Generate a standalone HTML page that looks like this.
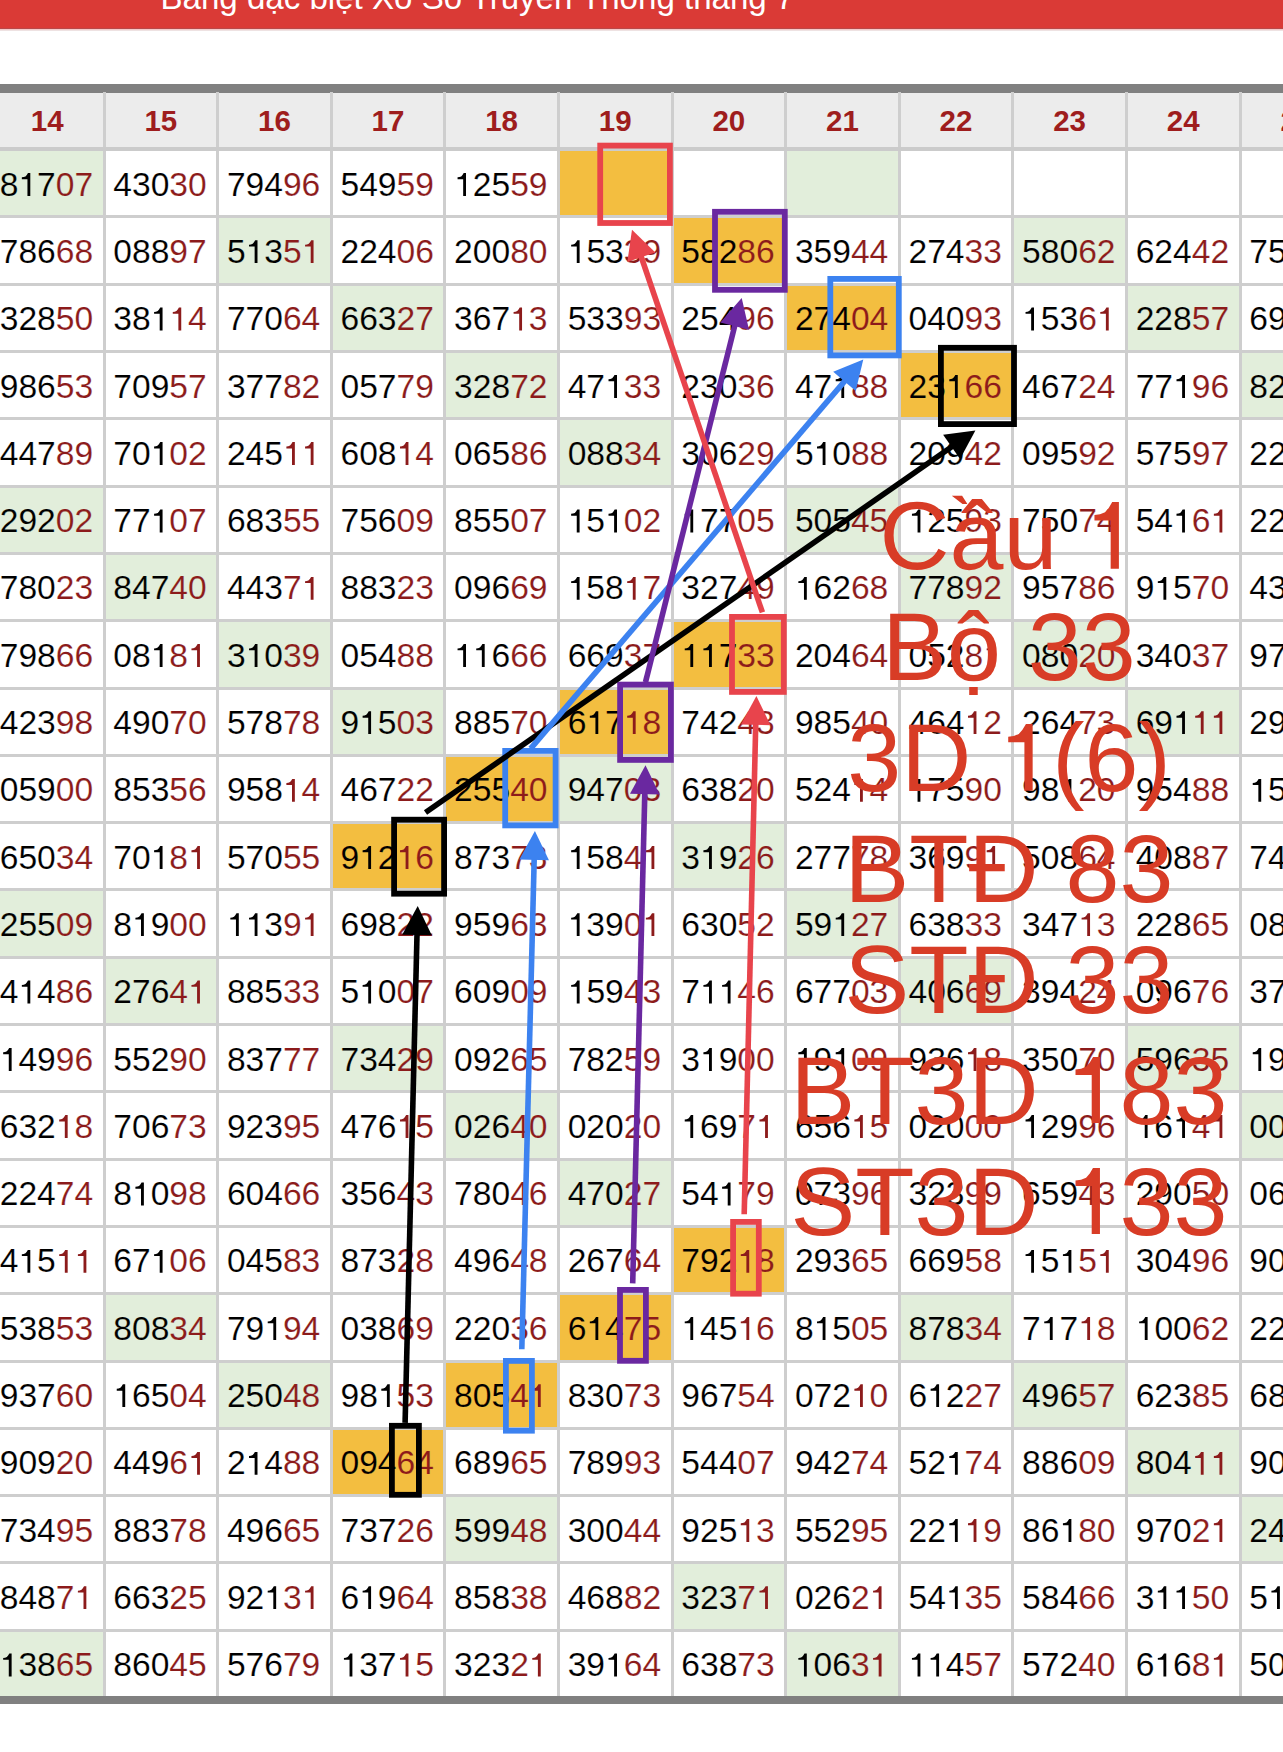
<!DOCTYPE html>
<html><head><meta charset="utf-8"><title>Bang dac biet</title>
<style>
html,body{margin:0;padding:0;background:#fff;}
body{width:1283px;height:1752px;position:relative;overflow:hidden;font-family:"Liberation Sans",sans-serif;}
#bar{position:absolute;left:0;top:0;width:1283px;height:28px;background:#da3a36;}
#bar1{position:absolute;left:0;top:28px;width:1283px;height:1px;background:#b94848;}
#bar2{position:absolute;left:0;top:29px;width:1283px;height:1px;background:#f4c9c9;}
#bar3{position:absolute;left:0;top:30px;width:1283px;height:1px;background:#eee2e2;}
#title{position:absolute;left:160.5px;top:-21.8px;font-size:33.1px;line-height:40px;color:#fff;white-space:nowrap;}
#tb{position:absolute;left:0;top:84px;width:1283px;height:8.6px;background:#808080;}
#hd{position:absolute;left:0;top:92.6px;width:1283px;height:54px;background:#ececec;}
#hb{position:absolute;left:0;top:146.5px;width:1283px;height:4px;background:#cbcbcb;}
#bb{position:absolute;left:0;top:1696px;width:1283px;height:8.4px;background:#808080;}
.bg{position:absolute;}
.vl{position:absolute;top:92px;width:3px;height:1604px;background:#cecece;}
.hl{position:absolute;left:0;width:1283px;height:3px;background:#cecece;}
.t{position:absolute;font-size:33.6px;line-height:40px;height:40px;text-align:center;color:#000;white-space:nowrap;-webkit-text-stroke:0.15px #fff;}
.t.g{-webkit-text-stroke-color:#e2eedb;}
.t.o{-webkit-text-stroke-color:#f3be40;}
.t b{font-weight:normal;color:#8c1b1b;}
.h{position:absolute;top:100.5px;font-size:29.5px;font-weight:bold;line-height:40px;text-align:center;color:#9e1d1d;}
svg{position:absolute;left:0;top:0;}
i{font-style:normal;position:relative;color:transparent;}
i::before{content:"";position:absolute;left:0;top:0.2175em;width:0.556em;height:0.688em;background:#000;clip-path:polygon(0.355em 0,0.286em 0,0.25em 0.06em,0.212em 0.104em,0.16em 0.125em,0.103em 0.133em,0.103em 0.19em,0.270em 0.19em,0.270em 0.688em,0.355em 0.688em);}
b i::before{background:#8c1b1b;}
.ov i::before{background:#d83c26;}

.ov{position:absolute;left:509px;width:1000px;text-align:center;font-size:97px;line-height:100px;color:#d83c26;white-space:nowrap;}
</style></head><body>
<div id="bar"></div><div id="bar1"></div><div id="bar2"></div><div id="bar3"></div>
<div id="title">Bảng đặc biệt Xổ Số Truyền Thống tháng 7</div>
<div id="tb"></div><div id="hd"></div>
<div class="bg" style="left:-9.6px;top:149.6px;width:113.6px;height:67.3px;background:#e2eedb"></div>
<div class="bg" style="left:558.4px;top:149.6px;width:113.6px;height:67.3px;background:#f3be40"></div>
<div class="bg" style="left:785.6px;top:149.6px;width:113.6px;height:67.3px;background:#e2eedb"></div>
<div class="bg" style="left:217.6px;top:216.9px;width:113.6px;height:67.3px;background:#e2eedb"></div>
<div class="bg" style="left:672px;top:216.9px;width:113.6px;height:67.3px;background:#f3be40"></div>
<div class="bg" style="left:1012.8px;top:216.9px;width:113.6px;height:67.3px;background:#e2eedb"></div>
<div class="bg" style="left:331.2px;top:284.2px;width:113.6px;height:67.3px;background:#e2eedb"></div>
<div class="bg" style="left:785.6px;top:284.2px;width:113.6px;height:67.3px;background:#f3be40"></div>
<div class="bg" style="left:1126.4px;top:284.2px;width:113.6px;height:67.3px;background:#e2eedb"></div>
<div class="bg" style="left:444.8px;top:351.5px;width:113.6px;height:67.3px;background:#e2eedb"></div>
<div class="bg" style="left:899.2px;top:351.5px;width:113.6px;height:67.3px;background:#f3be40"></div>
<div class="bg" style="left:1240px;top:351.5px;width:113.6px;height:67.3px;background:#e2eedb"></div>
<div class="bg" style="left:558.4px;top:418.8px;width:113.6px;height:67.3px;background:#e2eedb"></div>
<div class="bg" style="left:-9.6px;top:486.1px;width:113.6px;height:67.3px;background:#e2eedb"></div>
<div class="bg" style="left:785.6px;top:486.1px;width:113.6px;height:67.3px;background:#e2eedb"></div>
<div class="bg" style="left:104px;top:553.4px;width:113.6px;height:67.3px;background:#e2eedb"></div>
<div class="bg" style="left:899.2px;top:553.4px;width:113.6px;height:67.3px;background:#e2eedb"></div>
<div class="bg" style="left:217.6px;top:620.7px;width:113.6px;height:67.3px;background:#e2eedb"></div>
<div class="bg" style="left:672px;top:620.7px;width:113.6px;height:67.3px;background:#f3be40"></div>
<div class="bg" style="left:1012.8px;top:620.7px;width:113.6px;height:67.3px;background:#e2eedb"></div>
<div class="bg" style="left:331.2px;top:688px;width:113.6px;height:67.3px;background:#e2eedb"></div>
<div class="bg" style="left:558.4px;top:688px;width:113.6px;height:67.3px;background:#f3be40"></div>
<div class="bg" style="left:1126.4px;top:688px;width:113.6px;height:67.3px;background:#e2eedb"></div>
<div class="bg" style="left:444.8px;top:755.3px;width:113.6px;height:67.3px;background:#f3be40"></div>
<div class="bg" style="left:558.4px;top:755.3px;width:113.6px;height:67.3px;background:#e2eedb"></div>
<div class="bg" style="left:331.2px;top:822.6px;width:113.6px;height:67.3px;background:#f3be40"></div>
<div class="bg" style="left:672px;top:822.6px;width:113.6px;height:67.3px;background:#e2eedb"></div>
<div class="bg" style="left:-9.6px;top:889.9px;width:113.6px;height:67.3px;background:#e2eedb"></div>
<div class="bg" style="left:785.6px;top:889.9px;width:113.6px;height:67.3px;background:#e2eedb"></div>
<div class="bg" style="left:104px;top:957.2px;width:113.6px;height:67.3px;background:#e2eedb"></div>
<div class="bg" style="left:899.2px;top:957.2px;width:113.6px;height:67.3px;background:#e2eedb"></div>
<div class="bg" style="left:331.2px;top:1024.5px;width:113.6px;height:67.3px;background:#e2eedb"></div>
<div class="bg" style="left:1126.4px;top:1024.5px;width:113.6px;height:67.3px;background:#e2eedb"></div>
<div class="bg" style="left:444.8px;top:1091.8px;width:113.6px;height:67.3px;background:#e2eedb"></div>
<div class="bg" style="left:1240px;top:1091.8px;width:113.6px;height:67.3px;background:#e2eedb"></div>
<div class="bg" style="left:558.4px;top:1159.1px;width:113.6px;height:67.3px;background:#e2eedb"></div>
<div class="bg" style="left:672px;top:1226.4px;width:113.6px;height:67.3px;background:#f3be40"></div>
<div class="bg" style="left:104px;top:1293.7px;width:113.6px;height:67.3px;background:#e2eedb"></div>
<div class="bg" style="left:558.4px;top:1293.7px;width:113.6px;height:67.3px;background:#f3be40"></div>
<div class="bg" style="left:899.2px;top:1293.7px;width:113.6px;height:67.3px;background:#e2eedb"></div>
<div class="bg" style="left:217.6px;top:1361px;width:113.6px;height:67.3px;background:#e2eedb"></div>
<div class="bg" style="left:444.8px;top:1361px;width:113.6px;height:67.3px;background:#f3be40"></div>
<div class="bg" style="left:1012.8px;top:1361px;width:113.6px;height:67.3px;background:#e2eedb"></div>
<div class="bg" style="left:331.2px;top:1428.3px;width:113.6px;height:67.3px;background:#f3be40"></div>
<div class="bg" style="left:1126.4px;top:1428.3px;width:113.6px;height:67.3px;background:#e2eedb"></div>
<div class="bg" style="left:444.8px;top:1495.6px;width:113.6px;height:67.3px;background:#e2eedb"></div>
<div class="bg" style="left:1240px;top:1495.6px;width:113.6px;height:67.3px;background:#e2eedb"></div>
<div class="bg" style="left:672px;top:1562.9px;width:113.6px;height:67.3px;background:#e2eedb"></div>
<div class="bg" style="left:-9.6px;top:1630.2px;width:113.6px;height:67.3px;background:#e2eedb"></div>
<div class="bg" style="left:785.6px;top:1630.2px;width:113.6px;height:67.3px;background:#e2eedb"></div>
<div class="vl" style="left:102.5px"></div>
<div class="vl" style="left:216.1px"></div>
<div class="vl" style="left:329.7px"></div>
<div class="vl" style="left:443.3px"></div>
<div class="vl" style="left:556.9px"></div>
<div class="vl" style="left:670.5px"></div>
<div class="vl" style="left:784.1px"></div>
<div class="vl" style="left:897.7px"></div>
<div class="vl" style="left:1011.3px"></div>
<div class="vl" style="left:1124.9px"></div>
<div class="vl" style="left:1238.5px"></div>
<div class="hl" style="top:215.4px"></div>
<div class="hl" style="top:282.7px"></div>
<div class="hl" style="top:350px"></div>
<div class="hl" style="top:417.3px"></div>
<div class="hl" style="top:484.6px"></div>
<div class="hl" style="top:551.9px"></div>
<div class="hl" style="top:619.2px"></div>
<div class="hl" style="top:686.5px"></div>
<div class="hl" style="top:753.8px"></div>
<div class="hl" style="top:821.1px"></div>
<div class="hl" style="top:888.4px"></div>
<div class="hl" style="top:955.7px"></div>
<div class="hl" style="top:1023px"></div>
<div class="hl" style="top:1090.3px"></div>
<div class="hl" style="top:1157.6px"></div>
<div class="hl" style="top:1224.9px"></div>
<div class="hl" style="top:1292.2px"></div>
<div class="hl" style="top:1359.5px"></div>
<div class="hl" style="top:1426.8px"></div>
<div class="hl" style="top:1494.1px"></div>
<div class="hl" style="top:1561.4px"></div>
<div class="hl" style="top:1628.7px"></div>
<div class="t g" style="left:-10.4px;top:164.6px;width:113.6px">8<i>1</i>7<b>07</b></div>
<div class="t" style="left:103.2px;top:164.6px;width:113.6px">430<b>30</b></div>
<div class="t" style="left:216.8px;top:164.6px;width:113.6px">794<b>96</b></div>
<div class="t" style="left:330.4px;top:164.6px;width:113.6px">549<b>59</b></div>
<div class="t" style="left:444px;top:164.6px;width:113.6px"><i>1</i>25<b>59</b></div>
<div class="t" style="left:-10.4px;top:231.9px;width:113.6px">786<b>68</b></div>
<div class="t" style="left:103.2px;top:231.9px;width:113.6px">088<b>97</b></div>
<div class="t g" style="left:216.8px;top:231.9px;width:113.6px">5<i>1</i>3<b>5<i>1</i></b></div>
<div class="t" style="left:330.4px;top:231.9px;width:113.6px">224<b>06</b></div>
<div class="t" style="left:444px;top:231.9px;width:113.6px">200<b>80</b></div>
<div class="t" style="left:557.6px;top:231.9px;width:113.6px"><i>1</i>53<b>39</b></div>
<div class="t o" style="left:671.2px;top:231.9px;width:113.6px">582<b>86</b></div>
<div class="t" style="left:784.8px;top:231.9px;width:113.6px">359<b>44</b></div>
<div class="t" style="left:898.4px;top:231.9px;width:113.6px">274<b>33</b></div>
<div class="t g" style="left:1012px;top:231.9px;width:113.6px">580<b>62</b></div>
<div class="t" style="left:1125.6px;top:231.9px;width:113.6px">624<b>42</b></div>
<div class="t" style="left:1239.2px;top:231.9px;width:113.6px">750<b>00</b></div>
<div class="t" style="left:-10.4px;top:299.2px;width:113.6px">328<b>50</b></div>
<div class="t" style="left:103.2px;top:299.2px;width:113.6px">38<i>1</i><b><i>1</i>4</b></div>
<div class="t" style="left:216.8px;top:299.2px;width:113.6px">770<b>64</b></div>
<div class="t g" style="left:330.4px;top:299.2px;width:113.6px">663<b>27</b></div>
<div class="t" style="left:444px;top:299.2px;width:113.6px">367<b><i>1</i>3</b></div>
<div class="t" style="left:557.6px;top:299.2px;width:113.6px">533<b>93</b></div>
<div class="t" style="left:671.2px;top:299.2px;width:113.6px">254<b>96</b></div>
<div class="t o" style="left:784.8px;top:299.2px;width:113.6px">274<b>04</b></div>
<div class="t" style="left:898.4px;top:299.2px;width:113.6px">040<b>93</b></div>
<div class="t" style="left:1012px;top:299.2px;width:113.6px"><i>1</i>53<b>6<i>1</i></b></div>
<div class="t g" style="left:1125.6px;top:299.2px;width:113.6px">228<b>57</b></div>
<div class="t" style="left:1239.2px;top:299.2px;width:113.6px">690<b>00</b></div>
<div class="t" style="left:-10.4px;top:366.5px;width:113.6px">986<b>53</b></div>
<div class="t" style="left:103.2px;top:366.5px;width:113.6px">709<b>57</b></div>
<div class="t" style="left:216.8px;top:366.5px;width:113.6px">377<b>82</b></div>
<div class="t" style="left:330.4px;top:366.5px;width:113.6px">057<b>79</b></div>
<div class="t g" style="left:444px;top:366.5px;width:113.6px">328<b>72</b></div>
<div class="t" style="left:557.6px;top:366.5px;width:113.6px">47<i>1</i><b>33</b></div>
<div class="t" style="left:671.2px;top:366.5px;width:113.6px">230<b>36</b></div>
<div class="t" style="left:784.8px;top:366.5px;width:113.6px">47<i>1</i><b>88</b></div>
<div class="t o" style="left:898.4px;top:366.5px;width:113.6px">23<i>1</i><b>66</b></div>
<div class="t" style="left:1012px;top:366.5px;width:113.6px">467<b>24</b></div>
<div class="t" style="left:1125.6px;top:366.5px;width:113.6px">77<i>1</i><b>96</b></div>
<div class="t g" style="left:1239.2px;top:366.5px;width:113.6px">820<b>00</b></div>
<div class="t" style="left:-10.4px;top:433.8px;width:113.6px">447<b>89</b></div>
<div class="t" style="left:103.2px;top:433.8px;width:113.6px">70<i>1</i><b>02</b></div>
<div class="t" style="left:216.8px;top:433.8px;width:113.6px">245<b><i>1</i><i>1</i></b></div>
<div class="t" style="left:330.4px;top:433.8px;width:113.6px">608<b><i>1</i>4</b></div>
<div class="t" style="left:444px;top:433.8px;width:113.6px">065<b>86</b></div>
<div class="t g" style="left:557.6px;top:433.8px;width:113.6px">088<b>34</b></div>
<div class="t" style="left:671.2px;top:433.8px;width:113.6px">306<b>29</b></div>
<div class="t" style="left:784.8px;top:433.8px;width:113.6px">5<i>1</i>0<b>88</b></div>
<div class="t" style="left:898.4px;top:433.8px;width:113.6px">209<b>42</b></div>
<div class="t" style="left:1012px;top:433.8px;width:113.6px">095<b>92</b></div>
<div class="t" style="left:1125.6px;top:433.8px;width:113.6px">575<b>97</b></div>
<div class="t" style="left:1239.2px;top:433.8px;width:113.6px">220<b>00</b></div>
<div class="t g" style="left:-10.4px;top:501.1px;width:113.6px">292<b>02</b></div>
<div class="t" style="left:103.2px;top:501.1px;width:113.6px">77<i>1</i><b>07</b></div>
<div class="t" style="left:216.8px;top:501.1px;width:113.6px">683<b>55</b></div>
<div class="t" style="left:330.4px;top:501.1px;width:113.6px">756<b>09</b></div>
<div class="t" style="left:444px;top:501.1px;width:113.6px">855<b>07</b></div>
<div class="t" style="left:557.6px;top:501.1px;width:113.6px"><i>1</i>5<i>1</i><b>02</b></div>
<div class="t" style="left:671.2px;top:501.1px;width:113.6px"><i>1</i>77<b>05</b></div>
<div class="t g" style="left:784.8px;top:501.1px;width:113.6px">505<b>45</b></div>
<div class="t" style="left:898.4px;top:501.1px;width:113.6px"><i>1</i>25<b>93</b></div>
<div class="t" style="left:1012px;top:501.1px;width:113.6px">750<b>74</b></div>
<div class="t" style="left:1125.6px;top:501.1px;width:113.6px">54<i>1</i><b>6<i>1</i></b></div>
<div class="t" style="left:1239.2px;top:501.1px;width:113.6px">220<b>00</b></div>
<div class="t" style="left:-10.4px;top:568.4px;width:113.6px">780<b>23</b></div>
<div class="t g" style="left:103.2px;top:568.4px;width:113.6px">847<b>40</b></div>
<div class="t" style="left:216.8px;top:568.4px;width:113.6px">443<b>7<i>1</i></b></div>
<div class="t" style="left:330.4px;top:568.4px;width:113.6px">883<b>23</b></div>
<div class="t" style="left:444px;top:568.4px;width:113.6px">096<b>69</b></div>
<div class="t" style="left:557.6px;top:568.4px;width:113.6px"><i>1</i>58<b><i>1</i>7</b></div>
<div class="t" style="left:671.2px;top:568.4px;width:113.6px">327<b>49</b></div>
<div class="t" style="left:784.8px;top:568.4px;width:113.6px"><i>1</i>62<b>68</b></div>
<div class="t g" style="left:898.4px;top:568.4px;width:113.6px">778<b>92</b></div>
<div class="t" style="left:1012px;top:568.4px;width:113.6px">957<b>86</b></div>
<div class="t" style="left:1125.6px;top:568.4px;width:113.6px">9<i>1</i>5<b>70</b></div>
<div class="t" style="left:1239.2px;top:568.4px;width:113.6px">430<b>00</b></div>
<div class="t" style="left:-10.4px;top:635.7px;width:113.6px">798<b>66</b></div>
<div class="t" style="left:103.2px;top:635.7px;width:113.6px">08<i>1</i><b>8<i>1</i></b></div>
<div class="t g" style="left:216.8px;top:635.7px;width:113.6px">3<i>1</i>0<b>39</b></div>
<div class="t" style="left:330.4px;top:635.7px;width:113.6px">054<b>88</b></div>
<div class="t" style="left:444px;top:635.7px;width:113.6px"><i>1</i><i>1</i>6<b>66</b></div>
<div class="t" style="left:557.6px;top:635.7px;width:113.6px">669<b>37</b></div>
<div class="t o" style="left:671.2px;top:635.7px;width:113.6px"><i>1</i><i>1</i>7<b>33</b></div>
<div class="t" style="left:784.8px;top:635.7px;width:113.6px">204<b>64</b></div>
<div class="t" style="left:898.4px;top:635.7px;width:113.6px">052<b>8<i>1</i></b></div>
<div class="t g" style="left:1012px;top:635.7px;width:113.6px">080<b>20</b></div>
<div class="t" style="left:1125.6px;top:635.7px;width:113.6px">340<b>37</b></div>
<div class="t" style="left:1239.2px;top:635.7px;width:113.6px">970<b>00</b></div>
<div class="t" style="left:-10.4px;top:703px;width:113.6px">423<b>98</b></div>
<div class="t" style="left:103.2px;top:703px;width:113.6px">490<b>70</b></div>
<div class="t" style="left:216.8px;top:703px;width:113.6px">578<b>78</b></div>
<div class="t g" style="left:330.4px;top:703px;width:113.6px">9<i>1</i>5<b>03</b></div>
<div class="t" style="left:444px;top:703px;width:113.6px">885<b>70</b></div>
<div class="t o" style="left:557.6px;top:703px;width:113.6px">6<i>1</i>7<b><i>1</i>8</b></div>
<div class="t" style="left:671.2px;top:703px;width:113.6px">742<b>43</b></div>
<div class="t" style="left:784.8px;top:703px;width:113.6px">985<b>40</b></div>
<div class="t" style="left:898.4px;top:703px;width:113.6px">464<b><i>1</i>2</b></div>
<div class="t" style="left:1012px;top:703px;width:113.6px">264<b>73</b></div>
<div class="t g" style="left:1125.6px;top:703px;width:113.6px">69<i>1</i><b><i>1</i><i>1</i></b></div>
<div class="t" style="left:1239.2px;top:703px;width:113.6px">290<b>00</b></div>
<div class="t" style="left:-10.4px;top:770.3px;width:113.6px">059<b>00</b></div>
<div class="t" style="left:103.2px;top:770.3px;width:113.6px">853<b>56</b></div>
<div class="t" style="left:216.8px;top:770.3px;width:113.6px">958<b><i>1</i>4</b></div>
<div class="t" style="left:330.4px;top:770.3px;width:113.6px">467<b>22</b></div>
<div class="t o" style="left:444px;top:770.3px;width:113.6px">255<b>40</b></div>
<div class="t g" style="left:557.6px;top:770.3px;width:113.6px">947<b>03</b></div>
<div class="t" style="left:671.2px;top:770.3px;width:113.6px">638<b>20</b></div>
<div class="t" style="left:784.8px;top:770.3px;width:113.6px">524<b><i>1</i>4</b></div>
<div class="t" style="left:898.4px;top:770.3px;width:113.6px"><i>1</i>75<b>90</b></div>
<div class="t" style="left:1012px;top:770.3px;width:113.6px">98<i>1</i><b>20</b></div>
<div class="t" style="left:1125.6px;top:770.3px;width:113.6px">954<b>88</b></div>
<div class="t" style="left:1239.2px;top:770.3px;width:113.6px"><i>1</i>50<b>00</b></div>
<div class="t" style="left:-10.4px;top:837.6px;width:113.6px">650<b>34</b></div>
<div class="t" style="left:103.2px;top:837.6px;width:113.6px">70<i>1</i><b>8<i>1</i></b></div>
<div class="t" style="left:216.8px;top:837.6px;width:113.6px">570<b>55</b></div>
<div class="t o" style="left:330.4px;top:837.6px;width:113.6px">9<i>1</i>2<b><i>1</i>6</b></div>
<div class="t" style="left:444px;top:837.6px;width:113.6px">873<b>73</b></div>
<div class="t" style="left:557.6px;top:837.6px;width:113.6px"><i>1</i>58<b>4<i>1</i></b></div>
<div class="t g" style="left:671.2px;top:837.6px;width:113.6px">3<i>1</i>9<b>26</b></div>
<div class="t" style="left:784.8px;top:837.6px;width:113.6px">277<b>78</b></div>
<div class="t" style="left:898.4px;top:837.6px;width:113.6px">369<b>9<i>1</i></b></div>
<div class="t" style="left:1012px;top:837.6px;width:113.6px">508<b>64</b></div>
<div class="t" style="left:1125.6px;top:837.6px;width:113.6px">408<b>87</b></div>
<div class="t" style="left:1239.2px;top:837.6px;width:113.6px">740<b>00</b></div>
<div class="t g" style="left:-10.4px;top:904.9px;width:113.6px">255<b>09</b></div>
<div class="t" style="left:103.2px;top:904.9px;width:113.6px">8<i>1</i>9<b>00</b></div>
<div class="t" style="left:216.8px;top:904.9px;width:113.6px"><i>1</i><i>1</i>3<b>9<i>1</i></b></div>
<div class="t" style="left:330.4px;top:904.9px;width:113.6px">698<b>22</b></div>
<div class="t" style="left:444px;top:904.9px;width:113.6px">959<b>63</b></div>
<div class="t" style="left:557.6px;top:904.9px;width:113.6px"><i>1</i>39<b>0<i>1</i></b></div>
<div class="t" style="left:671.2px;top:904.9px;width:113.6px">630<b>52</b></div>
<div class="t g" style="left:784.8px;top:904.9px;width:113.6px">59<i>1</i><b>27</b></div>
<div class="t" style="left:898.4px;top:904.9px;width:113.6px">638<b>33</b></div>
<div class="t" style="left:1012px;top:904.9px;width:113.6px">347<b><i>1</i>3</b></div>
<div class="t" style="left:1125.6px;top:904.9px;width:113.6px">228<b>65</b></div>
<div class="t" style="left:1239.2px;top:904.9px;width:113.6px">080<b>00</b></div>
<div class="t" style="left:-10.4px;top:972.2px;width:113.6px">4<i>1</i>4<b>86</b></div>
<div class="t g" style="left:103.2px;top:972.2px;width:113.6px">276<b>4<i>1</i></b></div>
<div class="t" style="left:216.8px;top:972.2px;width:113.6px">885<b>33</b></div>
<div class="t" style="left:330.4px;top:972.2px;width:113.6px">5<i>1</i>0<b>07</b></div>
<div class="t" style="left:444px;top:972.2px;width:113.6px">609<b>09</b></div>
<div class="t" style="left:557.6px;top:972.2px;width:113.6px"><i>1</i>59<b>43</b></div>
<div class="t" style="left:671.2px;top:972.2px;width:113.6px">7<i>1</i><i>1</i><b>46</b></div>
<div class="t" style="left:784.8px;top:972.2px;width:113.6px">677<b>03</b></div>
<div class="t g" style="left:898.4px;top:972.2px;width:113.6px">406<b>69</b></div>
<div class="t" style="left:1012px;top:972.2px;width:113.6px">394<b>24</b></div>
<div class="t" style="left:1125.6px;top:972.2px;width:113.6px">096<b>76</b></div>
<div class="t" style="left:1239.2px;top:972.2px;width:113.6px">370<b>00</b></div>
<div class="t" style="left:-10.4px;top:1039.5px;width:113.6px"><i>1</i>49<b>96</b></div>
<div class="t" style="left:103.2px;top:1039.5px;width:113.6px">552<b>90</b></div>
<div class="t" style="left:216.8px;top:1039.5px;width:113.6px">837<b>77</b></div>
<div class="t g" style="left:330.4px;top:1039.5px;width:113.6px">734<b>29</b></div>
<div class="t" style="left:444px;top:1039.5px;width:113.6px">092<b>65</b></div>
<div class="t" style="left:557.6px;top:1039.5px;width:113.6px">782<b>59</b></div>
<div class="t" style="left:671.2px;top:1039.5px;width:113.6px">3<i>1</i>9<b>00</b></div>
<div class="t" style="left:784.8px;top:1039.5px;width:113.6px"><i>1</i>9<i>1</i><b>09</b></div>
<div class="t" style="left:898.4px;top:1039.5px;width:113.6px">936<b><i>1</i>8</b></div>
<div class="t" style="left:1012px;top:1039.5px;width:113.6px">350<b>70</b></div>
<div class="t g" style="left:1125.6px;top:1039.5px;width:113.6px">596<b>35</b></div>
<div class="t" style="left:1239.2px;top:1039.5px;width:113.6px"><i>1</i>90<b>00</b></div>
<div class="t" style="left:-10.4px;top:1106.8px;width:113.6px">632<b><i>1</i>8</b></div>
<div class="t" style="left:103.2px;top:1106.8px;width:113.6px">706<b>73</b></div>
<div class="t" style="left:216.8px;top:1106.8px;width:113.6px">923<b>95</b></div>
<div class="t" style="left:330.4px;top:1106.8px;width:113.6px">476<b><i>1</i>5</b></div>
<div class="t g" style="left:444px;top:1106.8px;width:113.6px">026<b>40</b></div>
<div class="t" style="left:557.6px;top:1106.8px;width:113.6px">020<b>20</b></div>
<div class="t" style="left:671.2px;top:1106.8px;width:113.6px"><i>1</i>69<b>7<i>1</i></b></div>
<div class="t" style="left:784.8px;top:1106.8px;width:113.6px">656<b><i>1</i>5</b></div>
<div class="t" style="left:898.4px;top:1106.8px;width:113.6px">020<b>00</b></div>
<div class="t" style="left:1012px;top:1106.8px;width:113.6px"><i>1</i>29<b>96</b></div>
<div class="t" style="left:1125.6px;top:1106.8px;width:113.6px"><i>1</i>6<i>1</i><b>4<i>1</i></b></div>
<div class="t g" style="left:1239.2px;top:1106.8px;width:113.6px">000<b>00</b></div>
<div class="t" style="left:-10.4px;top:1174.1px;width:113.6px">224<b>74</b></div>
<div class="t" style="left:103.2px;top:1174.1px;width:113.6px">8<i>1</i>0<b>98</b></div>
<div class="t" style="left:216.8px;top:1174.1px;width:113.6px">604<b>66</b></div>
<div class="t" style="left:330.4px;top:1174.1px;width:113.6px">356<b>43</b></div>
<div class="t" style="left:444px;top:1174.1px;width:113.6px">780<b>46</b></div>
<div class="t g" style="left:557.6px;top:1174.1px;width:113.6px">470<b>27</b></div>
<div class="t" style="left:671.2px;top:1174.1px;width:113.6px">54<i>1</i><b>79</b></div>
<div class="t" style="left:784.8px;top:1174.1px;width:113.6px">073<b>96</b></div>
<div class="t" style="left:898.4px;top:1174.1px;width:113.6px">323<b>99</b></div>
<div class="t" style="left:1012px;top:1174.1px;width:113.6px">659<b>43</b></div>
<div class="t" style="left:1125.6px;top:1174.1px;width:113.6px">290<b>50</b></div>
<div class="t" style="left:1239.2px;top:1174.1px;width:113.6px">060<b>00</b></div>
<div class="t" style="left:-10.4px;top:1241.4px;width:113.6px">4<i>1</i>5<b><i>1</i><i>1</i></b></div>
<div class="t" style="left:103.2px;top:1241.4px;width:113.6px">67<i>1</i><b>06</b></div>
<div class="t" style="left:216.8px;top:1241.4px;width:113.6px">045<b>83</b></div>
<div class="t" style="left:330.4px;top:1241.4px;width:113.6px">873<b>28</b></div>
<div class="t" style="left:444px;top:1241.4px;width:113.6px">496<b>48</b></div>
<div class="t" style="left:557.6px;top:1241.4px;width:113.6px">267<b>64</b></div>
<div class="t o" style="left:671.2px;top:1241.4px;width:113.6px">792<b><i>1</i>8</b></div>
<div class="t" style="left:784.8px;top:1241.4px;width:113.6px">293<b>65</b></div>
<div class="t" style="left:898.4px;top:1241.4px;width:113.6px">669<b>58</b></div>
<div class="t" style="left:1012px;top:1241.4px;width:113.6px"><i>1</i>5<i>1</i><b>5<i>1</i></b></div>
<div class="t" style="left:1125.6px;top:1241.4px;width:113.6px">304<b>96</b></div>
<div class="t" style="left:1239.2px;top:1241.4px;width:113.6px">900<b>00</b></div>
<div class="t" style="left:-10.4px;top:1308.7px;width:113.6px">538<b>53</b></div>
<div class="t g" style="left:103.2px;top:1308.7px;width:113.6px">808<b>34</b></div>
<div class="t" style="left:216.8px;top:1308.7px;width:113.6px">79<i>1</i><b>94</b></div>
<div class="t" style="left:330.4px;top:1308.7px;width:113.6px">038<b>69</b></div>
<div class="t" style="left:444px;top:1308.7px;width:113.6px">220<b>36</b></div>
<div class="t o" style="left:557.6px;top:1308.7px;width:113.6px">6<i>1</i>4<b>75</b></div>
<div class="t" style="left:671.2px;top:1308.7px;width:113.6px"><i>1</i>45<b><i>1</i>6</b></div>
<div class="t" style="left:784.8px;top:1308.7px;width:113.6px">8<i>1</i>5<b>05</b></div>
<div class="t g" style="left:898.4px;top:1308.7px;width:113.6px">878<b>34</b></div>
<div class="t" style="left:1012px;top:1308.7px;width:113.6px">7<i>1</i>7<b><i>1</i>8</b></div>
<div class="t" style="left:1125.6px;top:1308.7px;width:113.6px"><i>1</i>00<b>62</b></div>
<div class="t" style="left:1239.2px;top:1308.7px;width:113.6px">220<b>00</b></div>
<div class="t" style="left:-10.4px;top:1376px;width:113.6px">937<b>60</b></div>
<div class="t" style="left:103.2px;top:1376px;width:113.6px"><i>1</i>65<b>04</b></div>
<div class="t g" style="left:216.8px;top:1376px;width:113.6px">250<b>48</b></div>
<div class="t" style="left:330.4px;top:1376px;width:113.6px">98<i>1</i><b>53</b></div>
<div class="t o" style="left:444px;top:1376px;width:113.6px">805<b>4<i>1</i></b></div>
<div class="t" style="left:557.6px;top:1376px;width:113.6px">830<b>73</b></div>
<div class="t" style="left:671.2px;top:1376px;width:113.6px">967<b>54</b></div>
<div class="t" style="left:784.8px;top:1376px;width:113.6px">072<b><i>1</i>0</b></div>
<div class="t" style="left:898.4px;top:1376px;width:113.6px">6<i>1</i>2<b>27</b></div>
<div class="t g" style="left:1012px;top:1376px;width:113.6px">496<b>57</b></div>
<div class="t" style="left:1125.6px;top:1376px;width:113.6px">623<b>85</b></div>
<div class="t" style="left:1239.2px;top:1376px;width:113.6px">680<b>00</b></div>
<div class="t" style="left:-10.4px;top:1443.3px;width:113.6px">909<b>20</b></div>
<div class="t" style="left:103.2px;top:1443.3px;width:113.6px">449<b>6<i>1</i></b></div>
<div class="t" style="left:216.8px;top:1443.3px;width:113.6px">2<i>1</i>4<b>88</b></div>
<div class="t o" style="left:330.4px;top:1443.3px;width:113.6px">094<b>64</b></div>
<div class="t" style="left:444px;top:1443.3px;width:113.6px">689<b>65</b></div>
<div class="t" style="left:557.6px;top:1443.3px;width:113.6px">789<b>93</b></div>
<div class="t" style="left:671.2px;top:1443.3px;width:113.6px">544<b>07</b></div>
<div class="t" style="left:784.8px;top:1443.3px;width:113.6px">942<b>74</b></div>
<div class="t" style="left:898.4px;top:1443.3px;width:113.6px">52<i>1</i><b>74</b></div>
<div class="t" style="left:1012px;top:1443.3px;width:113.6px">886<b>09</b></div>
<div class="t g" style="left:1125.6px;top:1443.3px;width:113.6px">804<b><i>1</i><i>1</i></b></div>
<div class="t" style="left:1239.2px;top:1443.3px;width:113.6px">900<b>00</b></div>
<div class="t" style="left:-10.4px;top:1510.6px;width:113.6px">734<b>95</b></div>
<div class="t" style="left:103.2px;top:1510.6px;width:113.6px">883<b>78</b></div>
<div class="t" style="left:216.8px;top:1510.6px;width:113.6px">496<b>65</b></div>
<div class="t" style="left:330.4px;top:1510.6px;width:113.6px">737<b>26</b></div>
<div class="t g" style="left:444px;top:1510.6px;width:113.6px">599<b>48</b></div>
<div class="t" style="left:557.6px;top:1510.6px;width:113.6px">300<b>44</b></div>
<div class="t" style="left:671.2px;top:1510.6px;width:113.6px">925<b><i>1</i>3</b></div>
<div class="t" style="left:784.8px;top:1510.6px;width:113.6px">552<b>95</b></div>
<div class="t" style="left:898.4px;top:1510.6px;width:113.6px">22<i>1</i><b><i>1</i>9</b></div>
<div class="t" style="left:1012px;top:1510.6px;width:113.6px">86<i>1</i><b>80</b></div>
<div class="t" style="left:1125.6px;top:1510.6px;width:113.6px">970<b>2<i>1</i></b></div>
<div class="t g" style="left:1239.2px;top:1510.6px;width:113.6px">240<b>00</b></div>
<div class="t" style="left:-10.4px;top:1577.9px;width:113.6px">848<b>7<i>1</i></b></div>
<div class="t" style="left:103.2px;top:1577.9px;width:113.6px">663<b>25</b></div>
<div class="t" style="left:216.8px;top:1577.9px;width:113.6px">92<i>1</i><b>3<i>1</i></b></div>
<div class="t" style="left:330.4px;top:1577.9px;width:113.6px">6<i>1</i>9<b>64</b></div>
<div class="t" style="left:444px;top:1577.9px;width:113.6px">858<b>38</b></div>
<div class="t" style="left:557.6px;top:1577.9px;width:113.6px">468<b>82</b></div>
<div class="t g" style="left:671.2px;top:1577.9px;width:113.6px">323<b>7<i>1</i></b></div>
<div class="t" style="left:784.8px;top:1577.9px;width:113.6px">026<b>2<i>1</i></b></div>
<div class="t" style="left:898.4px;top:1577.9px;width:113.6px">54<i>1</i><b>35</b></div>
<div class="t" style="left:1012px;top:1577.9px;width:113.6px">584<b>66</b></div>
<div class="t" style="left:1125.6px;top:1577.9px;width:113.6px">3<i>1</i><i>1</i><b>50</b></div>
<div class="t" style="left:1239.2px;top:1577.9px;width:113.6px">5<i>1</i>0<b>00</b></div>
<div class="t g" style="left:-10.4px;top:1645.2px;width:113.6px"><i>1</i>38<b>65</b></div>
<div class="t" style="left:103.2px;top:1645.2px;width:113.6px">860<b>45</b></div>
<div class="t" style="left:216.8px;top:1645.2px;width:113.6px">576<b>79</b></div>
<div class="t" style="left:330.4px;top:1645.2px;width:113.6px"><i>1</i>37<b><i>1</i>5</b></div>
<div class="t" style="left:444px;top:1645.2px;width:113.6px">323<b>2<i>1</i></b></div>
<div class="t" style="left:557.6px;top:1645.2px;width:113.6px">39<i>1</i><b>64</b></div>
<div class="t" style="left:671.2px;top:1645.2px;width:113.6px">638<b>73</b></div>
<div class="t g" style="left:784.8px;top:1645.2px;width:113.6px"><i>1</i>06<b>3<i>1</i></b></div>
<div class="t" style="left:898.4px;top:1645.2px;width:113.6px"><i>1</i><i>1</i>4<b>57</b></div>
<div class="t" style="left:1012px;top:1645.2px;width:113.6px">572<b>40</b></div>
<div class="t" style="left:1125.6px;top:1645.2px;width:113.6px">6<i>1</i>6<b>8<i>1</i></b></div>
<div class="t" style="left:1239.2px;top:1645.2px;width:113.6px">500<b>00</b></div>
<div class="h" style="left:-9.6px;width:113.6px">14</div>
<div class="h" style="left:104px;width:113.6px">15</div>
<div class="h" style="left:217.6px;width:113.6px">16</div>
<div class="h" style="left:331.2px;width:113.6px">17</div>
<div class="h" style="left:444.8px;width:113.6px">18</div>
<div class="h" style="left:558.4px;width:113.6px">19</div>
<div class="h" style="left:672px;width:113.6px">20</div>
<div class="h" style="left:785.6px;width:113.6px">21</div>
<div class="h" style="left:899.2px;width:113.6px">22</div>
<div class="h" style="left:1012.8px;width:113.6px">23</div>
<div class="h" style="left:1126.4px;width:113.6px">24</div>
<div class="h" style="left:1240px;width:113.6px">25</div>
<div id="hb"></div>
<div id="bb"></div>
<svg width="1283" height="1752" viewBox="0 0 1283 1752">
<rect x="600.2" y="145.6" width="69.7" height="77.4" fill="none" stroke="#e8444c" stroke-width="5.8"/>
<rect x="715" y="211.8" width="69.8" height="78" fill="none" stroke="#6a28a0" stroke-width="5.8"/>
<rect x="830.3" y="278.9" width="68.5" height="76.5" fill="none" stroke="#3c82f0" stroke-width="5.8"/>
<rect x="940.9" y="347.8" width="73.1" height="76.3" fill="none" stroke="#000000" stroke-width="5.8"/>
<rect x="732" y="616.9" width="51.8" height="75" fill="none" stroke="#e8444c" stroke-width="5.8"/>
<rect x="620.1" y="684.6" width="50.8" height="75.3" fill="none" stroke="#6a28a0" stroke-width="5.8"/>
<rect x="505.2" y="750.9" width="50.4" height="74.5" fill="none" stroke="#3c82f0" stroke-width="5.8"/>
<rect x="394.1" y="819.7" width="50" height="74" fill="none" stroke="#000000" stroke-width="5.8"/>
<rect x="733.1" y="1221.9" width="25.7" height="71.8" fill="none" stroke="#e8444c" stroke-width="5.8"/>
<rect x="620" y="1289.9" width="25.9" height="70.9" fill="none" stroke="#6a28a0" stroke-width="5.8"/>
<rect x="505.9" y="1360.9" width="26" height="69.8" fill="none" stroke="#3c82f0" stroke-width="5.8"/>
<rect x="391.9" y="1425.8" width="27" height="69" fill="none" stroke="#000000" stroke-width="5.8"/>
<line x1="405.1" y1="1422.9" x2="417.04" y2="932.99" stroke="#000000" stroke-width="5.6"/>
<polygon points="417.7,906 431.79,935.35 402.2,934.63" fill="#000000"/>
<line x1="425.5" y1="812.5" x2="953.23" y2="445.81" stroke="#000000" stroke-width="5.6"/>
<polygon points="975.4,430.4 960.03,459.1 943.14,434.79" fill="#000000"/>
<line x1="521.8" y1="1349.2" x2="534.22" y2="857.89" stroke="#3c82f0" stroke-width="5.6"/>
<polygon points="534.9,830.9 548.96,860.26 519.37,859.52" fill="#3c82f0"/>
<line x1="530.6" y1="748.6" x2="845.76" y2="379.92" stroke="#3c82f0" stroke-width="5.6"/>
<polygon points="863.3,359.4 855.71,391.06 833.21,371.83" fill="#3c82f0"/>
<line x1="632.7" y1="1283.4" x2="644.83" y2="792.19" stroke="#6a28a0" stroke-width="5.6"/>
<polygon points="645.5,765.2 659.58,794.56 629.99,793.83" fill="#6a28a0"/>
<line x1="645.5" y1="682.2" x2="735.14" y2="324.19" stroke="#6a28a0" stroke-width="5.6"/>
<polygon points="741.7,298 749.01,329.73 720.3,322.54" fill="#6a28a0"/>
<line x1="744.2" y1="1214.3" x2="755.76" y2="722.89" stroke="#e8444c" stroke-width="5.6"/>
<polygon points="756.4,695.9 770.51,725.24 740.92,724.54" fill="#e8444c"/>
<line x1="762.4" y1="612.4" x2="640.71" y2="255.26" stroke="#e8444c" stroke-width="5.6"/>
<polygon points="632,229.7 655.36,252.38 627.34,261.92" fill="#e8444c"/>
</svg>
<div class="ov" style="top:486px">Cầu <i>1</i></div>
<div class="ov" style="top:596.92px">Bộ 33</div>
<div class="ov" style="top:707.84px">3D <i>1</i>(6)</div>
<div class="ov" style="top:818.76px">BTĐ 83</div>
<div class="ov" style="top:929.68px">STĐ 33</div>
<div class="ov" style="top:1040.6px">BT3D <i>1</i>83</div>
<div class="ov" style="top:1151.52px">ST3D <i>1</i>33</div>
</body></html>
